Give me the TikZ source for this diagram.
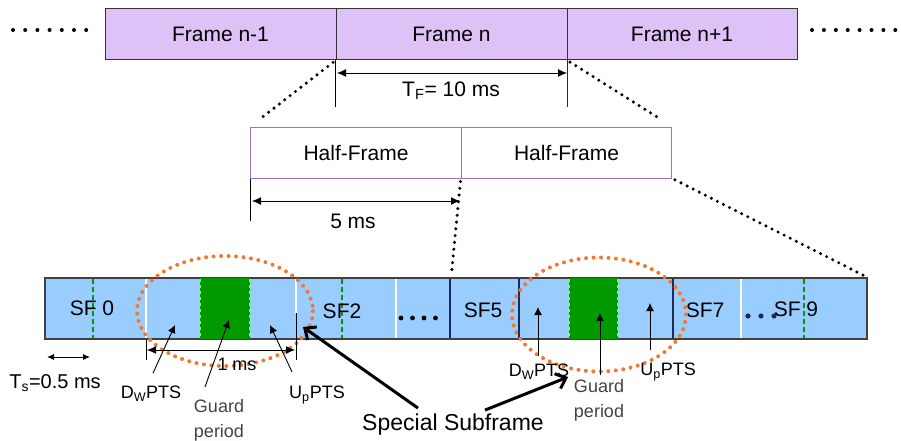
\documentclass[tikz,border=0pt]{standalone}
\usepackage{fontspec}
\setmainfont{Liberation Sans}
\usetikzlibrary{arrows.meta}
\definecolor{framepurple}{HTML}{DEC2F7}
\definecolor{hfborder}{HTML}{A070D0}
\definecolor{sfblue}{HTML}{99CCFF}
\definecolor{guardgreen}{HTML}{009A00}
\definecolor{spotorange}{HTML}{F07832}
\definecolor{navyline}{HTML}{1A2A5A}
\definecolor{guardtext}{HTML}{4A4040}
\begin{document}
\begin{tikzpicture}[x=1pt,y=-1pt,
    framebox/.style={draw=black!80, fill=framepurple, line width=1pt, minimum width=231pt, minimum height=51pt, inner sep=0pt, font=\fontsize{21}{25}\selectfont},
    halfbox/.style={draw=hfborder, fill=white, line width=1pt, minimum width=210.5pt, minimum height=51pt, inner sep=0pt, font=\fontsize{21}{25}\selectfont},
    zoomline/.style={line width=3.4pt, dash pattern=on 0pt off 6.8pt, line cap=round},
    spot/.style={draw=spotorange, line width=4pt, dash pattern=on 0pt off 7.5pt, line cap=round},
    dim/.style={{Latex[length=9pt,width=8pt]}-{Latex[length=9pt,width=8pt]}, line width=0.9pt},
    ptr/.style={-{Latex[length=8pt,width=8pt]}, line width=0.9pt},
    bigptr/.style={-{Straight Barb[length=9pt,width=16pt]}, line width=3pt},
    sfdash/.style={draw=guardgreen, dash pattern=on 5pt off 3pt, line width=1.6pt},
    sfwhite/.style={draw=white, line width=1.6pt},
    sfnavy/.style={draw=navyline, line width=1.6pt},
    lbl/.style={font=\fontsize{18}{25}\selectfont, inner sep=1pt},
    sflbl/.style={font=\fontsize{21}{25}\selectfont, inner sep=1pt},
  ]
  \useasboundingbox (0,0) rectangle (901,441);

  \node[framebox] (fprev) at (220.5,34.5) {Frame n-1};
  \node[framebox] (fcur) at (451.5,34.5) {Frame n};
  \node[framebox, minimum width=230pt] (fnext) at (682,34.5) {Frame n+1};
  \foreach \i in {0,...,6} {
    \fill (13+12.2*\i, 30) circle (2pt);
  }
  \foreach \i in {0,...,7} {
    \fill (812+11.9*\i, 30) circle (2pt);
  }
  \draw[line width=1pt] (fcur.south west) -- ++(0,47);
  \draw[navyline, line width=1.6pt] (fcur.south east) -- ++(0,47);
  \coordinate (tfl) at (337,73);
  \coordinate (tfr) at (567,73);
  \draw[dim] (tfl) -- (tfr);
  \node[sflbl] (tf) at (451,91) {T\textsubscript{F}= 10 ms};

  \node[halfbox] (hf1) at (356,152.5) {Half-Frame};
  \node[halfbox] (hf2) at (566.5,152.5) {Half-Frame};
  \draw[zoomline, shorten <=3pt, shorten >=12pt] (fcur.south west) -- (hf1.north west);
  \draw[zoomline, shorten <=3pt, shorten >=14pt] (fcur.south east) -- (hf2.north east);
  \draw[line width=1pt] (hf1.south west) -- ++(0,42);
  \coordinate (hfl) at (252,201);
  \coordinate (hfr) at (460,201);
  \draw[dim] (hfl) -- (hfr);
  \node[sflbl] (fivems) at (353,221) {5 ms};

  \node[draw=black!75, fill=sfblue, line width=1.2pt, minimum width=822pt, minimum height=61pt, inner sep=0pt] (bar) at (456,308.5) {};
  \coordinate (sf5l) at (451,278);
  \draw[zoomline, shorten <=3pt, shorten >=3pt] (hf2.south west) -- (sf5l);
  \draw[zoomline, shorten <=3pt] (hf2.south east) -- (bar.north east);

  \fill[guardgreen] (200,278) rectangle (250,339);
  \fill[guardgreen] (569,278) rectangle (618,339);
  \foreach \x in {200,250,569,618} {
    \draw[draw=green!55!white, dashed, line width=1.2pt] (\x,279) -- (\x,338);
  }
  \foreach \x in {93,342,804} {
    \draw[sfdash] (\x,279) -- (\x,338);
  }
  \foreach \x in {146,396,741} {
    \draw[sfwhite] (\x,279) -- (\x,338);
  }
  \draw[sfwhite] (296,279) -- (296,313);
  \foreach \x in {450,519,673} {
    \draw[sfnavy] (\x,279) -- (\x,338);
  }
  \draw[black!75, line width=1.2pt] (bar.north west) rectangle (bar.south east);

  \node[sflbl] (sf0) at (92,308) {SF 0};
  \node[sflbl] (sf2) at (342,311) {SF2};
  \node[sflbl] (sf5) at (483,310) {SF5};
  \node[sflbl] (sf7) at (705,310) {SF7};
  \node[sflbl] (sf9) at (796,309) {SF 9};
  \foreach \i in {0,...,3} {
    \fill (401+11.5*\i, 318) circle (2.4pt);
  }
  \foreach \i in {0,1,2} {
    \fill[navyline] (748+13*\i, 316) circle (2.6pt);
  }

  \draw[spot] (225,311) ellipse [x radius=88, y radius=55];
  \draw[spot] (599,314.5) ellipse [x radius=87, y radius=57];

  \node[lbl] (dw1) at (151,394) {D\textsubscript{W}PTS};
  \node[lbl, align=center, text=guardtext] (gp1) at (219,420) {Guard\\period};
  \node[lbl] (up1) at (317,395) {U\textsubscript{p}PTS};
  \coordinate (dw1t) at (175,325);
  \coordinate (gp1t) at (229,320);
  \coordinate (up1t) at (270,325);
  \draw[ptr] ([xshift=2pt,yshift=12pt]dw1.north) -- (dw1t);
  \draw[ptr] ([xshift=-14pt,yshift=11pt]gp1.north) -- (gp1t);
  \draw[ptr] ([xshift=-25pt,yshift=13pt]up1.north) -- (up1t);

  \node[lbl] (dw2) at (539,372) {D\textsubscript{W}PTS};
  \node[lbl, align=center, text=guardtext] (gp2) at (599,400) {Guard\\period};
  \node[lbl] (up2) at (668,372) {U\textsubscript{p}PTS};
  \coordinate (dw2t) at (538,307);
  \coordinate (gp2t) at (600,313);
  \coordinate (up2t) at (650,303);
  \draw[ptr] ([xshift=-1pt,yshift=7pt]dw2.north) -- (dw2t);
  \draw[ptr] ([xshift=1pt,yshift=3pt]gp2.north) -- (gp2t);
  \draw[ptr] ([xshift=-18pt,yshift=12pt]up2.north) -- (up2t);

  \draw[line width=1pt] (146,340) -- (146,360);
  \draw[line width=1pt] (296,313) -- (296,360);
  \coordinate (oml) at (147,350);
  \coordinate (omr) at (295,350);
  \draw[dim] (oml) -- (omr);
  \node[lbl] (onems) at (237,364) {1 ms};

  \coordinate (tsl) at (47,357);
  \coordinate (tsr) at (90,357);
  \draw[{Latex[length=7pt,width=6pt]}-{Latex[length=7pt,width=6pt]}, line width=0.9pt] (tsl) -- (tsr);
  \node[lbl, font=\fontsize{20}{25}\selectfont] (ts) at (55,383) {T\textsubscript{s}=0.5 ms};

  \node[sflbl, font=\fontsize{23}{27}\selectfont] (special) at (453,425) {Special Subframe};
  \coordinate (sp1t) at (303,327);
  \coordinate (sp2t) at (568,377);
  \draw[bigptr] ([xshift=-35pt,yshift=5pt]special.north) -- (sp1t);
  \draw[bigptr] ([xshift=32pt,yshift=3pt]special.north) -- (sp2t);
\end{tikzpicture}
\end{document}
